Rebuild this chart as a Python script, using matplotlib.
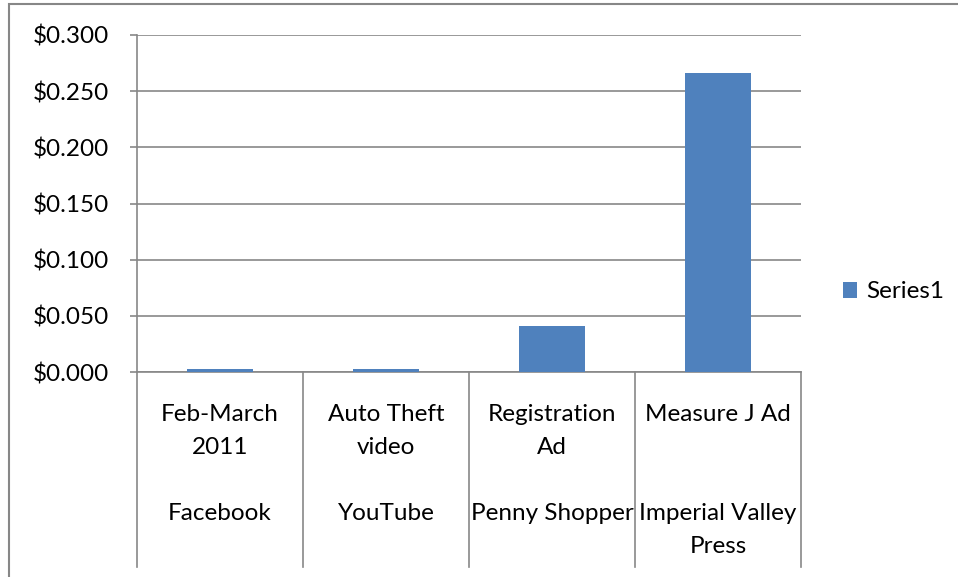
import numpy as np
from matplotlib import pyplot as plt
from matplotlib.patches import Rectangle
from matplotlib.ticker import FuncFormatter

# data
campaigns = ['Feb-March\n2011', 'Auto Theft\nvideo', 'Registration\nAd', 'Measure J Ad']
outlets = ['Facebook', 'YouTube', 'Penny Shopper', 'Imperial Valley\nPress']
cost = [0.003, 0.0025, 0.041, 0.266]
series_name = 'Series1'

plt.rcParams['font.family'] = ['Lato', 'DejaVu Sans']
plt.rcParams['font.size'] = 17.5
grey = '#878787'

fig = plt.figure(figsize=(9.58, 5.77), dpi=100)
W, H = 958, 577
ax = fig.add_axes([137/W, (H-372)/H, (801-137)/W, 337/H])

x = np.arange(len(cost))
ax.bar(x, cost, width=0.4, color='#4F81BD', label=series_name, zorder=3)
ax.set_xlim(-0.5, len(cost)-0.5)
ax.set_ylim(0, 0.3)
ax.set_yticks(np.arange(0, 0.301, 0.05))
ax.yaxis.set_major_formatter(FuncFormatter(lambda v, p: '$%.3f' % v))
ax.grid(axis='y', color=grey, lw=1.2, zorder=0)
ax.set_xticks([])
for s in ['top', 'right']:
    ax.spines[s].set_visible(False)
for s in ['left', 'bottom']:
    ax.spines[s].set_color(grey)
    ax.spines[s].set_linewidth(1.2)
ax.tick_params(axis='y', length=5, color=grey, width=1.2, pad=15, labelsize=17.5)

# multi-level category axis
trans = ax.get_xaxis_transform()
for b in np.arange(len(cost)+1) - 0.5:
    ax.plot([b, b], [0, -195/337], color=grey, lw=1.2, transform=trans, clip_on=False)
for i in range(len(cost)):
    ax.text(i, -(404-372)/337, campaigns[i], ha='center', va='top', transform=trans,
            linespacing=1.72)
    ax.text(i, -(503-372)/337, outlets[i], ha='center', va='top', transform=trans,
            linespacing=1.72)

ax.legend(loc='center left', bbox_to_anchor=(833/W, (H-292)/H), bbox_transform=fig.transFigure,
          frameon=False, handlelength=0.6, handleheight=0.6, handletextpad=0.35, borderaxespad=0)

# chart area border (left and top edges visible)
fig.patches.append(Rectangle((9/W, -0.1), 1.2, (H-4)/H + 0.1, transform=fig.transFigure,
                             fill=False, edgecolor=grey, lw=1.5))

plt.savefig('out.png', dpi=100)
